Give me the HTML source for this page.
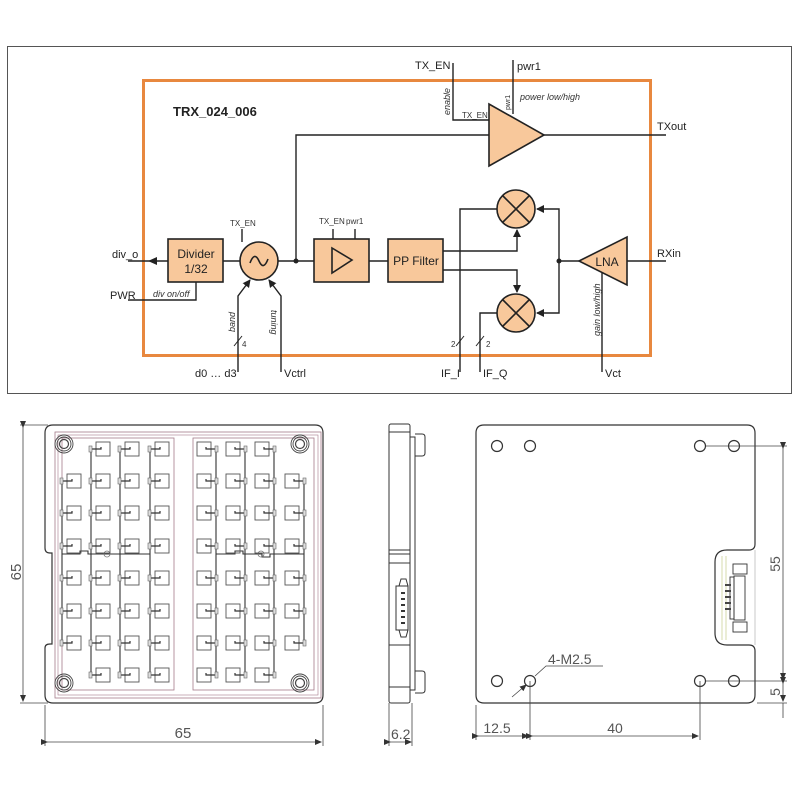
<!DOCTYPE html>
<html><head><meta charset="utf-8"><style>
html,body{margin:0;padding:0;background:#fff;}
svg{display:block;font-family:"Liberation Sans",sans-serif;}
</style></head><body>
<svg width="800" height="800" viewBox="0 0 800 800" xmlns="http://www.w3.org/2000/svg">
<defs>
<marker id="ah" markerWidth="8" markerHeight="8" refX="7" refY="4" orient="auto" markerUnits="userSpaceOnUse"><path d="M0,0 L8,4 L0,8 z" fill="#222"/></marker>
<marker id="as" markerWidth="7" markerHeight="6" refX="6" refY="3" orient="auto" markerUnits="userSpaceOnUse"><path d="M0,0 L7,3 L0,6 z" fill="#333"/></marker>
<g id="pl"><rect x="0" y="0" width="14" height="14" fill="none" stroke="#555" stroke-width="0.9"/><path d="M-5,7 H5 V5" fill="none" stroke="#333" stroke-width="1.2"/><rect x="-7" y="4" width="3" height="6" fill="#ddd" stroke="#666" stroke-width="0.6"/></g>
<g id="pr"><rect x="0" y="0" width="14" height="14" fill="none" stroke="#555" stroke-width="0.9"/><path d="M19,7 H9 V5" fill="none" stroke="#333" stroke-width="1.2"/><rect x="18" y="4" width="3" height="6" fill="#ddd" stroke="#666" stroke-width="0.6"/></g>
<g id="hole"><circle r="9" fill="none" stroke="#444" stroke-width="0.9"/><circle r="7" fill="none" stroke="#444" stroke-width="0.9"/><circle r="4.5" fill="none" stroke="#444" stroke-width="1.2"/></g>
</defs>

<rect x="7.5" y="46.5" width="784" height="347" fill="none" stroke="#555" stroke-width="1"/>
<rect x="143.5" y="80.5" width="507" height="275" fill="none" stroke="#e8883f" stroke-width="3"/>
<text x="173" y="116" font-size="13" font-weight="bold" fill="#222">TRX_024_006</text>

<g stroke="#222" stroke-width="1.4" fill="none">
<line x1="128" y1="261" x2="168" y2="261"/>
<path d="M128,300 H196 V282"/>
<line x1="223" y1="261" x2="240" y2="261"/>
<line x1="242" y1="229" x2="242" y2="242"/>
<line x1="278" y1="261" x2="314" y2="261"/>
<path d="M296,261 V135 H489"/>
<line x1="369" y1="261" x2="388" y2="261"/>
<line x1="333" y1="229" x2="333" y2="239"/>
<line x1="355" y1="229" x2="355" y2="239"/>
<path d="M238,372 V296 L250,280" marker-end="url(#ah)"/>
<path d="M281,372 V296 L269,280" marker-end="url(#ah)"/>
<line x1="234" y1="346" x2="242" y2="336" stroke-width="1"/>
<path d="M453,63 V120 H489"/>
<line x1="513" y1="60" x2="513" y2="114"/>
<line x1="544" y1="135" x2="666" y2="135"/>
<path d="M460,372 V209 H497"/>
<path d="M480,372 V313 H497"/>
<line x1="456" y1="346" x2="464" y2="336" stroke-width="1"/>
<line x1="476" y1="346" x2="484" y2="336" stroke-width="1"/>
<path d="M443,251 H517 V230" marker-end="url(#ah)"/>
<path d="M443,270 H517 V292" marker-end="url(#ah)"/>
<path d="M579,261 H559 V209 H537" marker-end="url(#ah)"/>
<path d="M559,261 V313 H537" marker-end="url(#ah)"/>
<line x1="627" y1="261" x2="666" y2="261"/>
<line x1="602" y1="273" x2="602" y2="372"/>
</g>
<polygon points="148,261 157,257 157,265" fill="#222"/>
<circle cx="296" cy="261" r="2.5" fill="#222"/>
<circle cx="559" cy="261" r="2.5" fill="#222"/>

<g fill="#f8c89b" stroke="#222" stroke-width="1.6">
<rect x="168" y="239" width="55" height="43"/>
<circle cx="259" cy="261" r="19"/>
<rect x="314" y="239" width="55" height="43"/>
<rect x="388" y="239" width="55" height="43"/>
<polygon points="489,104 489,166 544,135"/>
<circle cx="516" cy="209" r="19"/>
<circle cx="516" cy="313" r="19"/>
<polygon points="579,261 627,237 627,285"/>
</g>
<g stroke="#222" stroke-width="1.6" fill="none">
<path d="M250,263 q4.5,-12 9,-2 q4.5,10 9,-2"/>
<polygon points="332,248 332,273 352,260"/>
<path d="M503,196 L529,222 M529,196 L503,222"/>
<path d="M503,300 L529,326 M529,300 L503,326"/>
</g>
<g font-size="12" fill="#222" text-anchor="middle">
<text x="196" y="258">Divider</text><text x="196" y="273">1/32</text>
<text x="416" y="265">PP Filter</text>
<text x="607" y="266">LNA</text>
</g>
<g font-size="11" fill="#222">
<text x="112" y="258">div_o</text>
<text x="110" y="299">PWR</text>
<text x="415" y="69">TX_EN</text>
<text x="517" y="70">pwr1</text>
<text x="657" y="130">TXout</text>
<text x="657" y="257">RXin</text>
<text x="195" y="377">d0 … d3</text>
<text x="284" y="377">Vctrl</text>
<text x="441" y="377">IF_I</text>
<text x="483" y="377">IF_Q</text>
<text x="605" y="377">Vct</text>
</g>
<g font-size="8" fill="#333">
<text x="230" y="226">TX_EN</text>
<text x="319" y="224">TX_EN</text><text x="346" y="224">pwr1</text>
<text x="462" y="118">TX_EN</text>
<text x="242" y="347">4</text>
<text x="451" y="347">2</text><text x="486" y="347">2</text>
</g>
<g font-size="9" font-style="italic" fill="#333">
<text x="153" y="297">div on/off</text>
<text x="520" y="100">power low/high</text>
<text transform="translate(235,332) rotate(-90)">band</text>
<text transform="translate(271,310) rotate(90)">tuning</text>
<text transform="translate(450,115) rotate(-90)">enable</text>
<text transform="translate(510,110) rotate(-90)" font-size="7" font-style="normal">pwr1</text>
<text transform="translate(600,336) rotate(-90)">gain low/high</text>
</g>

<g fill="none" stroke="#333" stroke-width="1.2">
<path d="M53,425 H315 Q323,425 323,433 V695 Q323,703 315,703 H53 Q45,703 45,695 V648 Q45,644 50,644 H52 V553 H50 Q45,553 45,548 V433 Q45,425 53,425 Z"/>
</g>
<rect x="55" y="432" width="266" height="266" fill="none" stroke="#a57a8a" stroke-width="0.8"/>
<rect x="58" y="435" width="260" height="260" fill="none" stroke="#a57a8a" stroke-width="0.6"/>
<rect x="62" y="438" width="112" height="252" fill="none" stroke="#a57a8a" stroke-width="0.8"/>
<rect x="193" y="438" width="121" height="252" fill="none" stroke="#a57a8a" stroke-width="0.8"/>
<use href="#hole" x="64" y="444"/><use href="#hole" x="300" y="444"/>
<use href="#hole" x="64" y="683"/><use href="#hole" x="300" y="683"/>
<g stroke="#333" stroke-width="1.1" fill="none">
<line x1="62" y1="480" x2="62" y2="643"/>
<line x1="91" y1="448" x2="91" y2="675"/>
<line x1="120" y1="448" x2="120" y2="675"/>
<line x1="150" y1="448" x2="150" y2="675"/>
<line x1="216" y1="448" x2="216" y2="675"/>
<line x1="245" y1="448" x2="245" y2="675"/>
<line x1="274" y1="448" x2="274" y2="675"/>
<line x1="304" y1="480" x2="304" y2="643"/>
<path d="M62,554 H80 V551 H88 V554 H150"/>
<path d="M216,554 H235 V551 H243 V554 H262 V557 H270 V554 H304"/>
</g>
<circle cx="107" cy="554" r="3" fill="none" stroke="#777" stroke-width="0.8"/>
<circle cx="261" cy="554" r="3" fill="none" stroke="#777" stroke-width="0.8"/>
<g>
<use href="#pl" x="67" y="474"/><use href="#pl" x="67" y="506"/><use href="#pl" x="67" y="539"/><use href="#pl" x="67" y="571"/><use href="#pl" x="67" y="604"/><use href="#pl" x="67" y="636"/>
<use href="#pl" x="96" y="442"/><use href="#pl" x="96" y="474"/><use href="#pl" x="96" y="506"/><use href="#pl" x="96" y="539"/><use href="#pl" x="96" y="571"/><use href="#pl" x="96" y="604"/><use href="#pl" x="96" y="636"/><use href="#pl" x="96" y="668"/>
<use href="#pl" x="125" y="442"/><use href="#pl" x="125" y="474"/><use href="#pl" x="125" y="506"/><use href="#pl" x="125" y="539"/><use href="#pl" x="125" y="571"/><use href="#pl" x="125" y="604"/><use href="#pl" x="125" y="636"/><use href="#pl" x="125" y="668"/>
<use href="#pl" x="155" y="442"/><use href="#pl" x="155" y="474"/><use href="#pl" x="155" y="506"/><use href="#pl" x="155" y="539"/><use href="#pl" x="155" y="571"/><use href="#pl" x="155" y="604"/><use href="#pl" x="155" y="636"/><use href="#pl" x="155" y="668"/>
<use href="#pr" x="197" y="442"/><use href="#pr" x="197" y="474"/><use href="#pr" x="197" y="506"/><use href="#pr" x="197" y="539"/><use href="#pr" x="197" y="571"/><use href="#pr" x="197" y="604"/><use href="#pr" x="197" y="636"/><use href="#pr" x="197" y="668"/>
<use href="#pr" x="226" y="442"/><use href="#pr" x="226" y="474"/><use href="#pr" x="226" y="506"/><use href="#pr" x="226" y="539"/><use href="#pr" x="226" y="571"/><use href="#pr" x="226" y="604"/><use href="#pr" x="226" y="636"/><use href="#pr" x="226" y="668"/>
<use href="#pr" x="255" y="442"/><use href="#pr" x="255" y="474"/><use href="#pr" x="255" y="506"/><use href="#pr" x="255" y="539"/><use href="#pr" x="255" y="571"/><use href="#pr" x="255" y="604"/><use href="#pr" x="255" y="636"/><use href="#pr" x="255" y="668"/>
<use href="#pr" x="285" y="474"/><use href="#pr" x="285" y="506"/><use href="#pr" x="285" y="539"/><use href="#pr" x="285" y="571"/><use href="#pr" x="285" y="604"/><use href="#pr" x="285" y="636"/>
</g>
<g stroke="#444" stroke-width="0.8" fill="none">
<line x1="20" y1="425" x2="48" y2="425"/><line x1="20" y1="703" x2="48" y2="703"/>
<line x1="23" y1="427" x2="23" y2="701" marker-start="url(#as)" marker-end="url(#as)"/>
<line x1="45" y1="705" x2="45" y2="746"/><line x1="323" y1="705" x2="323" y2="746"/>
<line x1="47" y1="742" x2="321" y2="742" marker-start="url(#as)" marker-end="url(#as)"/>
</g>
<g font-size="15" fill="#555">
<text transform="translate(21,572) rotate(-90)" text-anchor="middle">65</text>
<text x="183" y="738" text-anchor="middle">65</text>
</g>

<g fill="none" stroke="#333" stroke-width="1">
<rect x="389" y="424" width="21" height="279" rx="2"/>
<rect x="410" y="437" width="5" height="253"/>
<path d="M415,434 H422 Q425,434 425,437 V453 Q425,456 422,456 H415"/>
<path d="M415,671 H422 Q425,671 425,674 V690 Q425,693 422,693 H415"/>
<line x1="389" y1="432" x2="410" y2="432"/>
<line x1="389" y1="550" x2="410" y2="550"/>
<line x1="389" y1="554" x2="410" y2="554"/>
<line x1="389" y1="563" x2="410" y2="563"/>
<line x1="389" y1="645" x2="410" y2="645"/>
<line x1="389" y1="687" x2="410" y2="687"/>
<rect x="396" y="586" width="12" height="44"/>
<path d="M399,586 L401,579 H406 L408,586 M399,630 L401,637 H406 L408,630"/>
</g>
<g fill="#333"><rect x="401" y="592" width="4" height="2"/><rect x="401" y="598" width="4" height="2"/><rect x="401" y="604" width="4" height="2"/><rect x="401" y="610" width="4" height="2"/><rect x="401" y="616" width="4" height="2"/><rect x="401" y="622" width="4" height="2"/></g>
<g stroke="#444" stroke-width="0.8" fill="none">
<line x1="389" y1="703" x2="389" y2="746"/><line x1="412" y1="703" x2="412" y2="746"/>
<line x1="390" y1="742" x2="411" y2="742" marker-start="url(#as)" marker-end="url(#as)"/>
</g>
<text x="391" y="739" font-size="14" fill="#555">6.2</text>

<path d="M484,425 H747 Q755,425 755,433 V544 Q755,550 749,550 H727 Q715,550 715,562 V633 Q715,645 727,645 H749 Q755,645 755,651 V695 Q755,703 747,703 H484 Q476,703 476,695 V433 Q476,425 484,425 Z" fill="none" stroke="#333" stroke-width="1.2"/>
<path d="M755,550 V645" fill="none" stroke="#bbb" stroke-width="0.8"/>
<path d="M722,556 V640 M726,556 V640" stroke="#cdd39a" stroke-width="0.8"/>
<g fill="none" stroke="#333" stroke-width="0.9">
<rect x="734" y="576" width="11" height="44"/>
<rect x="730" y="577" width="4" height="42"/>
<rect x="733" y="564" width="14" height="10"/>
<rect x="733" y="622" width="14" height="10"/>
</g>
<g fill="#444"><rect x="725" y="584" width="6" height="2"/><rect x="725" y="590" width="6" height="2"/><rect x="725" y="596" width="6" height="2"/><rect x="725" y="602" width="6" height="2"/><rect x="725" y="608" width="6" height="2"/></g>
<g fill="none" stroke="#333" stroke-width="1.2">
<circle cx="497" cy="446" r="5.5"/><circle cx="530" cy="446" r="5.5"/><circle cx="700" cy="446" r="5.5"/><circle cx="734" cy="446" r="5.5"/>
<circle cx="497" cy="681" r="5.5"/><circle cx="530" cy="681" r="5.5"/><circle cx="700" cy="681" r="5.5"/><circle cx="734" cy="681" r="5.5"/>
</g>
<g stroke="#444" stroke-width="0.8" fill="none">
<line x1="706" y1="446" x2="787" y2="446"/><line x1="706" y1="681" x2="787" y2="681"/><line x1="757" y1="703" x2="787" y2="703"/>
<line x1="783" y1="448" x2="783" y2="679" marker-start="url(#as)" marker-end="url(#as)"/>
<line x1="783" y1="683" x2="783" y2="701" marker-start="url(#as)" marker-end="url(#as)"/>
<line x1="783" y1="703" x2="783" y2="718"/>
<line x1="476" y1="705" x2="476" y2="740"/><line x1="530" y1="681" x2="530" y2="740"/><line x1="700" y1="681" x2="700" y2="740"/>
<line x1="478" y1="736" x2="528" y2="736" marker-start="url(#as)" marker-end="url(#as)"/>
<line x1="532" y1="736" x2="698" y2="736" marker-start="url(#as)" marker-end="url(#as)"/>
<path d="M603,666 H546 L535,676"/>
<line x1="512" y1="697" x2="526" y2="685" marker-end="url(#as)"/>
</g>
<g font-size="14" fill="#555">
<text x="548" y="664">4-M2.5</text>
<text x="497" y="733" text-anchor="middle">12.5</text>
<text x="615" y="733" text-anchor="middle">40</text>
<text transform="translate(780,564) rotate(-90)" text-anchor="middle">55</text>
<text transform="translate(780,692) rotate(-90)" text-anchor="middle">5</text>
</g>
</svg>
</body></html>
